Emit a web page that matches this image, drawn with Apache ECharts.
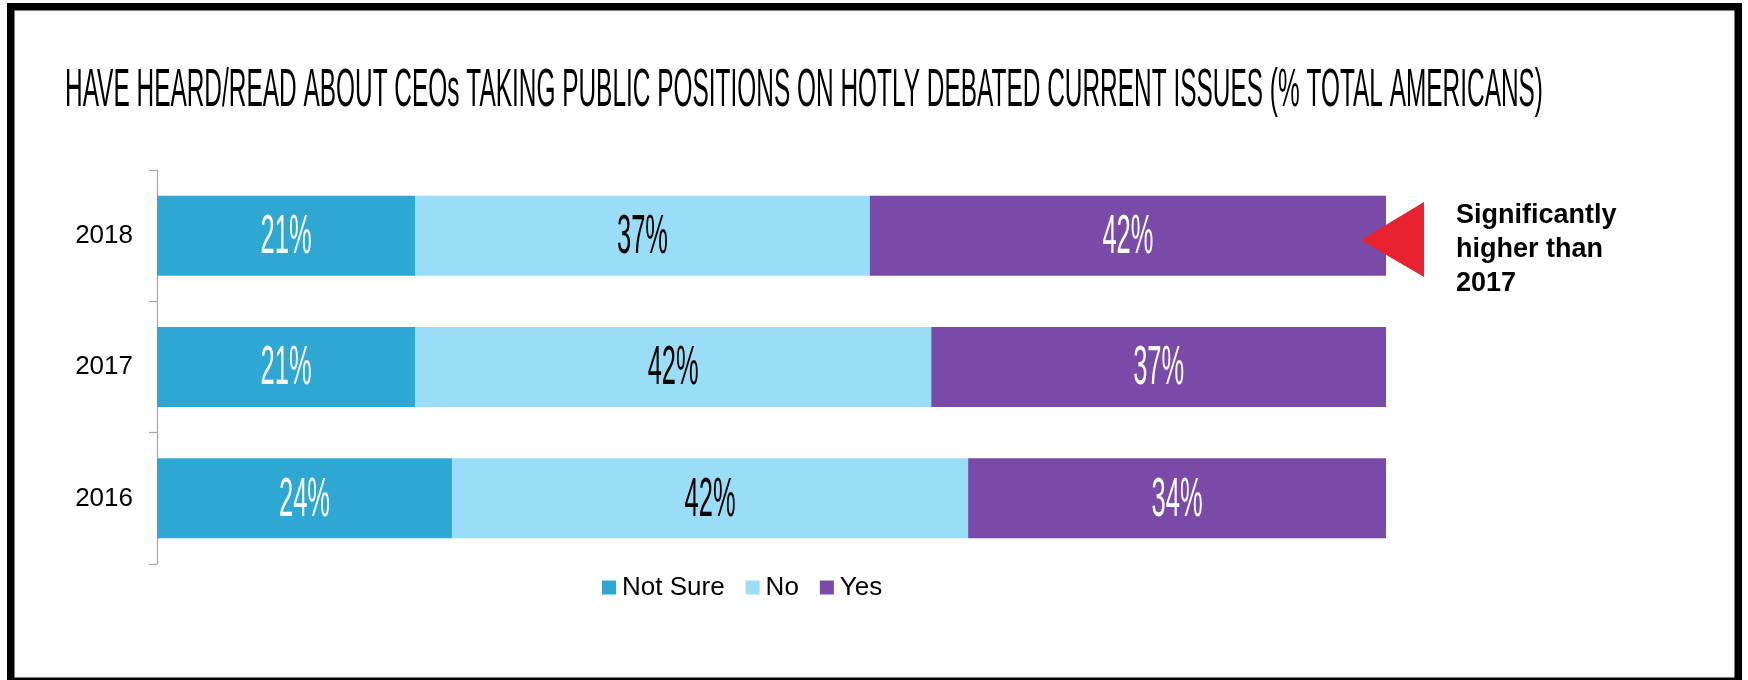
<!DOCTYPE html>
<html>
<head>
<meta charset="utf-8">
<script src="https://cdn.jsdelivr.net/npm/echarts@6/dist/echarts.min.js"></script>
<style>
html,body{margin:0;padding:0;background:#fff;}
#chart{width:1748px;height:680px;}
</style>
</head>
<body>
<div id="chart"></div>
<script>
// ---- data ----
const years = ['2018', '2017', '2016'];
const seriesNames = ['Not Sure', 'No', 'Yes'];
const notSure = [21, 21, 24];
const no = [37, 42, 42];
const yes = [42, 37, 34];
const titleText = 'HAVE HEARD/READ ABOUT CEOs TAKING PUBLIC POSITIONS ON HOTLY DEBATED CURRENT ISSUES (% TOTAL AMERICANS)';
const noteText = 'Significantly\nhigher than\n2017';

// ---- styles ----
const colors = ['#2EA8D2', '#9ADDF6', '#7A4AA8'];
const labelColors = ['#ffffff', '#000000', '#ffffff'];
const TITLE_FONT = 'normal 53px "Liberation Sans", Arial, sans-serif';
const LABEL_FONT_FAMILY = '"Liberation Sans", Arial, sans-serif';
const LABEL_SIZE = 56;

function measure(font, text) {
  const c = document.createElement('canvas').getContext('2d');
  c.font = font;
  return c.measureText(text).width;
}
const titleScale = 1478 / measure(TITLE_FONT, titleText);
const labelScale = 51 / measure('normal ' + LABEL_SIZE + 'px ' + LABEL_FONT_FAMILY, '37%');

// label data: [value, categoryIndex, start, seriesIndex]
const values = [notSure, no, yes];
const labelData = [];
years.forEach((y, i) => {
  let start = 0;
  values.forEach((arr, s) => {
    labelData.push([arr[i], i, start, s]);
    start += arr[i];
  });
});

const chart = echarts.init(document.getElementById('chart'), null, {renderer: 'canvas'});
const barSeries = seriesNames.map((name, s) => ({
  name: name,
  type: 'bar',
  stack: 'total',
  barWidth: 80,
  data: values[s],
  itemStyle: {color: colors[s]},
  emphasis: {disabled: true},
  silent: true
}));

chart.setOption({
  animation: false,
  backgroundColor: '#fff',
  grid: {left: 157, top: 170, width: 1229, height: 394},
  xAxis: {type: 'value', min: 0, max: 100, show: false},
  yAxis: {
    type: 'category',
    data: years,
    inverse: true,
    axisLine: {show: true, lineStyle: {color: '#A6A6A6', width: 1.2}},
    axisTick: {show: true, inside: false, alignWithLabel: false, length: 8, lineStyle: {color: '#A6A6A6', width: 1.2}},
    axisLabel: {fontSize: 26, color: '#000', margin: 24, fontFamily: LABEL_FONT_FAMILY}
  },
  legend: {
    data: seriesNames,
    left: 602,
    top: 574.5,
    padding: 0,
    icon: 'rect',
    itemWidth: 14,
    itemHeight: 14,
    itemGap: 21,
    textStyle: {fontSize: 26, color: '#000', fontFamily: LABEL_FONT_FAMILY, padding: [0, 0, 0, 1]},
    selectedMode: false
  },
  series: barSeries.concat([{
    type: 'custom',
    name: 'labels',
    silent: true,
    z: 10,
    encode: {x: 0, y: 1},
    data: labelData,
    renderItem: function (params, api) {
      const val = api.value(0);
      const p = api.coord([api.value(2) + val / 2, api.value(1)]);
      return {
        type: 'text',
        x: p[0],
        y: p[1] + 2,
        scaleX: labelScale,
        style: {
          text: val + '%',
          fontSize: LABEL_SIZE,
          fontFamily: LABEL_FONT_FAMILY,
          fill: labelColors[api.value(3)],
          align: 'center',
          verticalAlign: 'middle'
        }
      };
    }
  }]),
  graphic: [
    {
      type: 'rect',
      silent: true,
      shape: {x: 10.75, y: 6.75, width: 1727.5, height: 674.5},
      style: {fill: 'transparent', stroke: '#000', lineWidth: 7.5},
      z: 100
    },
    {
      type: 'text',
      x: 65,
      y: 91,
      scaleX: titleScale,
      style: {text: titleText, font: TITLE_FONT, fill: '#000', align: 'left', verticalAlign: 'middle'}
    },
    {
      type: 'polygon',
      shape: {points: [[1360.7, 240], [1424, 202], [1424, 277]]},
      style: {fill: '#E8222F'},
      z: 50
    },
    {
      type: 'text',
      x: 1456,
      y: 199,
      style: {
        text: noteText,
        font: 'bold 27px "Liberation Sans", Arial, sans-serif',
        lineHeight: 34,
        fill: '#000',
        align: 'left',
        verticalAlign: 'top'
      }
    }
  ]
});
</script>
</body>
</html>
